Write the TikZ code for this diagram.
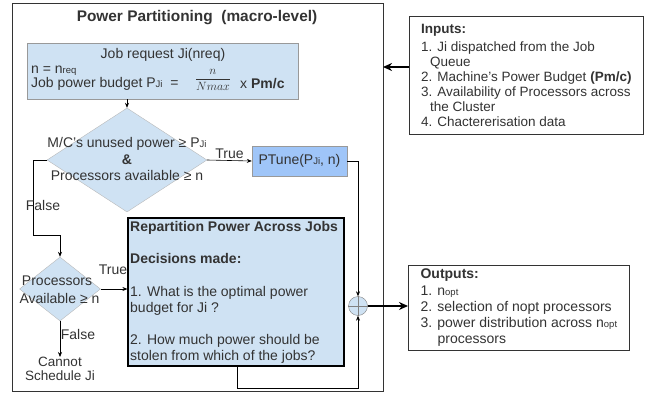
\documentclass[tikz,border=0pt]{standalone}
\usepackage{amsmath}
\usepackage{fontspec}
\setmainfont{Liberation Sans}
\usetikzlibrary{shapes.geometric,arrows.meta}
\definecolor{paleblue}{HTML}{CFE2F3}
\definecolor{tuneblue}{HTML}{9FC5F8}
\definecolor{ink}{HTML}{333333}
\newcommand{\smalltxt}[1]{{\fontsize{9.5}{9.5}\selectfont #1}}

\begin{document}
\begin{tikzpicture}[x=1pt,y=-1pt,
  font=\fontsize{14}{16}\selectfont, text=ink,
  box/.style={draw=gray!80, fill=paleblue, inner sep=0pt},
  decide/.style={diamond, draw=gray!55, fill=paleblue, inner sep=0pt},
  arr/.style={-{Stealth[length=5pt,width=4pt]}, line width=0.6pt},
  fatarr/.style={-{Stealth[length=9pt,width=8pt]}, line width=2.4pt},
  note/.style={draw=ink, line width=0.7pt, fill=white, align=left, inner sep=3pt}]
\useasboundingbox (0,0) rectangle (651,396);

\node[draw=ink, line width=0.8pt, inner sep=0pt, minimum width=371pt, minimum height=388pt, anchor=north west] (frame) at (12,3) {};
\node[font=\fontsize{15.4}{17}\selectfont\bfseries] (title) at (197,18) {Power Partitioning\ \ (macro-level)};

% job request
\node[box, minimum width=271pt, minimum height=56pt] (job) at (162.5,71) {};
\node[inner sep=0pt] (jobreq) at (163,55) {Job request Ji(nreq)};
\node[anchor=west, inner sep=0pt] (nval) at (31,71) {n = n\smalltxt{req}};
\node[anchor=west, inner sep=0pt] (budget) at (31,84) {Job power budget P\smalltxt{Ji} \ =};
\node[inner sep=0pt, font=\fontsize{13}{14}\selectfont] (ratio) at (213,80) {$\dfrac{n}{Nmax}$};
\node[anchor=west, inner sep=0pt] (pmc) at (240,84) {x \textbf{Pm/c}};

% first decision
\node[decide, minimum width=160pt, minimum height=104pt] (d1) at (127,160) {};
\node (d1a) at (127,144) {M/C's unused power ≥ P\smalltxt{Ji}};
\node[font=\fontsize{14}{16}\selectfont\bfseries] (d1b) at (127,160) {\&};
\node (d1c) at (127,175) {Processors available ≥ n};
\draw[arr] (job.south -| d1.north) -- (d1.north);

\node[box, fill=tuneblue, minimum width=95pt, minimum height=30pt] (tune) at (299.5,161) {PTune(P\smalltxt{Ji}, n)};
\draw[arr] (d1.east) -- (tune.west) node[midway, above, inner sep=2pt] (t1) {True};

% second decision
\node[decide, minimum width=81pt, minimum height=64pt] (d2) at (60,289) {};
\node (d2a) at (57,281) {Processors};
\node (d2b) at (59.5,298) {Available ≥ n};
\coordinate (fa) at (33,160);
\coordinate (fb) at (33,235);
\draw[arr] (d1.west) -- (fa) -- (fb) -| (d2.north);
\node (f1) at (43,205) {False};

% repartition
\node[box, draw=black, line width=1.2pt, minimum width=216pt, minimum height=148pt] (rep) at (236,292) {};
\node[anchor=north west, align=left, inner sep=0pt, font=\fontsize{14}{16.2}\selectfont] (reptxt) at (130,221)
  {\textbf{Repartition Power Across Jobs}\\[16.2pt]
   \textbf{Decisions made:}\\[16.2pt]
   1. What is the optimal power\\
   budget for Ji ?\\[16.2pt]
   2. How much power should be\\
   stolen from which of the jobs?};
\draw[arr] (d2.east) -- (rep.west |- d2.east);
\node (t2) at (113,270) {True};

\node[align=center, anchor=north, inner sep=0pt, font=\fontsize{13.5}{14}\selectfont] (cannot) at (60,357) {Cannot\\Schedule Ji};
\draw[arr] (d2.south) -- (cannot.north);
\node (f2) at (78,334) {False};

% combine
\node[circle, draw=gray, fill=paleblue, minimum size=19pt, inner sep=0pt] (sum) at (358,306) {};
\draw[gray] (sum.north) -- (sum.south) (sum.west) -- (sum.east);
\coordinate (loop) at (237,388);
\draw[arr] (tune.east) -| (sum.north);
\draw[arr] (rep.south -| loop) -- (loop) -| (sum.south);

% inputs and outputs
\node[note, anchor=north west, font=\fontsize{13.5}{15}\selectfont, minimum width=234pt, minimum height=118pt] (inp) at (409,16)
  {\textbf{Inputs:}\\[3pt]
   1. Ji dispatched from the Job\\
   \hspace*{9pt}Queue\\
   2. Machine's Power Budget \textbf{(Pm/c)}\\
   3. Availability of Processors across\\
   \hspace*{9pt}the Cluster\\
   4. Chactererisation data};
\coordinate (inend) at (383,67);
\draw[fatarr] (inp.west |- inend) -- (inend);

\node[note, anchor=north west, font=\fontsize{14}{16}\selectfont, minimum width=221pt, minimum height=85pt] (outp) at (408,265)
  {\textbf{Outputs:}\\[1pt]
   1. n\smalltxt{opt}\\
   2. selection of nopt processors\\
   3. power distribution across n\smalltxt{opt}\\
   \hspace*{17pt}processors};
\draw[fatarr] (sum.east) -- (outp.west |- sum.east);
\end{tikzpicture}
\end{document}
